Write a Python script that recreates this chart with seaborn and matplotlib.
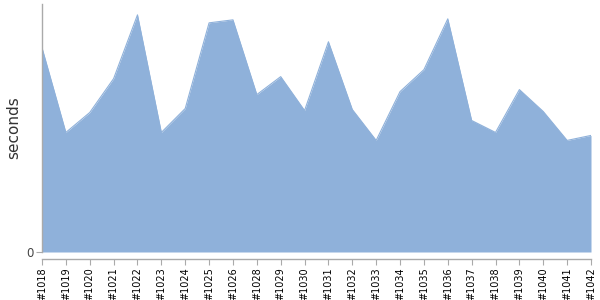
import matplotlib
matplotlib.use("Agg")
import matplotlib.pyplot as plt
import seaborn as sns
import pandas as pd
import numpy as np

builds = ["#1018", "#1019", "#1020", "#1021", "#1022", "#1023", "#1024", "#1025",
          "#1026", "#1028", "#1029", "#1030", "#1031", "#1032", "#1033", "#1034",
          "#1035", "#1036", "#1037", "#1038", "#1039", "#1040", "#1041", "#1042"]
seconds = [205, 120, 140, 174, 238, 120, 144, 230, 233, 158, 176, 142, 211, 143,
           112, 161, 183, 234, 132, 120, 163, 141, 112, 117]
y_max = 249

sns.set_theme(style="white")
plt.rcParams['font.family'] = ['DejaVu Sans']

df = pd.DataFrame({"build": builds, "seconds": seconds})
df["pos"] = np.arange(len(df))

fig = plt.figure(figsize=(6, 3), dpi=100)
ax = fig.add_axes([0.07, 0.16, 0.915, 0.827])

fill_color = "#8fb1da"
sns.lineplot(data=df, x="pos", y="seconds", ax=ax, color=fill_color, linewidth=0.8)
ax.fill_between(df["pos"], 0, df["seconds"], color=fill_color, linewidth=0)

ax.set_xlim(0, len(df) - 1)
ax.set_ylim(0, y_max)
ax.set_xticks(list(df["pos"]))
ax.set_xticklabels(list(df["build"]))
ax.set_yticks([0])
ax.set_yticklabels(["0"])
ax.set_xlabel("")
ax.set_ylabel("seconds", fontsize=11, color="#333333", labelpad=4)

for side in ["top", "right"]:
    ax.spines[side].set_visible(False)
for side in ["left", "bottom"]:
    ax.spines[side].set_color("#aaaaaa")
    ax.spines[side].set_linewidth(1)
ax.spines["bottom"].set_position(("outward", 5))

ax.tick_params(axis="x", which="both", bottom=True, length=4, width=0.8,
               color="#aaaaaa", pad=2, labelrotation=90, labelsize=7,
               labelcolor="black")
ax.tick_params(axis="y", which="both", left=True, length=4, width=0.8,
               color="#aaaaaa", pad=2, labelsize=8.5, labelcolor="#444444")

fig.savefig("out.png", dpi=100)
